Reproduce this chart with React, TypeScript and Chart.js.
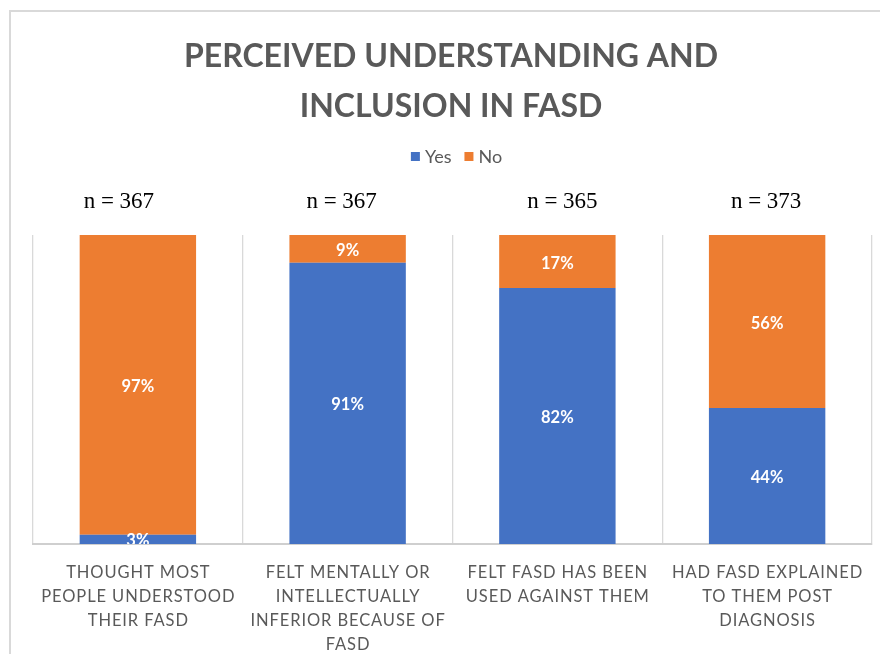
import React, { useEffect, useRef } from "react";
import { Chart, registerables } from "chart.js";

Chart.register(...registerables);

const titleLines = ["PERCEIVED UNDERSTANDING AND", "INCLUSION IN FASD"];
const categories = [
  ["THOUGHT MOST", "PEOPLE UNDERSTOOD", "THEIR FASD"],
  ["FELT MENTALLY OR", "INTELLECTUALLY", "INFERIOR BECAUSE OF", "FASD"],
  ["FELT FASD HAS BEEN", "USED AGAINST THEM"],
  ["HAD FASD EXPLAINED", "TO THEM POST", "DIAGNOSIS"],
];
const yesValues = [3, 91, 82, 44];
const noValues = [97, 9, 17, 56];
const sampleSizes = [367, 367, 365, 373];
const seriesNames = ["Yes", "No"];

const BLUE = "#4472C4";
const ORANGE = "#ED7D31";
const GRAY_TEXT = "#595959";

// 100% stacked: each bar's share of its own total
const totals = yesValues.map((v, i) => v + noValues[i]);
const yesShare = yesValues.map((v, i) => (v / totals[i]) * 100);
const noShare = noValues.map((v, i) => (v / totals[i]) * 100);
const labelSets = [yesValues, noValues];

function drawText(
  ctx: CanvasRenderingContext2D,
  text: string,
  x: number,
  y: number,
  font: string,
  color: string,
  spacing: number,
  align: "center" | "left" = "center"
) {
  ctx.save();
  ctx.font = font;
  ctx.fillStyle = color;
  ctx.textBaseline = "alphabetic";
  ctx.textAlign = "left";
  const anyCtx = ctx as any;
  let sp = 0;
  if ("letterSpacing" in anyCtx) {
    anyCtx.letterSpacing = spacing + "px";
    sp = spacing;
  }
  const w = ctx.measureText(text).width - sp;
  const sx = align === "center" ? x - w / 2 : x;
  ctx.fillText(text, sx, y);
  ctx.restore();
  return w;
}

function measure(ctx: CanvasRenderingContext2D, text: string, font: string) {
  ctx.save();
  ctx.font = font;
  const w = ctx.measureText(text).width;
  ctx.restore();
  return w;
}

const nOffsets = [-19, -6, 5, -1];

const decorPlugin = {
  id: "decor",
  afterDraw(chart: any) {
    const ctx: CanvasRenderingContext2D = chart.ctx;
    const area = chart.chartArea;
    const xScale = chart.scales.x;

    // outer frame
    ctx.save();
    ctx.strokeStyle = "#d9d9d9";
    ctx.lineWidth = 2;
    ctx.strokeRect(10, 11, 1000, 1000);
    ctx.restore();

    // title
    const titleFont = "bold 32px Lato";
    drawText(ctx, titleLines[0], 451, 67, titleFont, GRAY_TEXT, 0);
    drawText(ctx, titleLines[1], 451, 117, titleFont, GRAY_TEXT, 0);

    // legend
    const legFont = "18px Lato";
    const box = 9;
    const gapBoxText = 5;
    const gapItems = 13;
    const colors = [BLUE, ORANGE];
    const widths = seriesNames.map((s) => measure(ctx, s, legFont));
    const total =
      widths.reduce((a, b) => a + b, 0) + seriesNames.length * (box + gapBoxText) + gapItems * (seriesNames.length - 1);
    let lx = 456.5 - total / 2;
    seriesNames.forEach((s, i) => {
      ctx.save();
      ctx.fillStyle = colors[i];
      ctx.fillRect(lx, 152, box, box);
      ctx.restore();
      lx += box + gapBoxText;
      drawText(ctx, s, lx, 163, legFont, GRAY_TEXT, 0, "left");
      lx += widths[i] + gapItems;
    });

    // n labels
    sampleSizes.forEach((n, i) => {
      const cx = xScale.getPixelForValue(i) + nOffsets[i];
      drawText(ctx, "n = " + n, cx, 208, "23px 'Liberation Serif'", "#000", 0);
    });

    // category labels
    categories.forEach((lines, i) => {
      const cx = xScale.getPixelForValue(i);
      lines.forEach((ln, k) => {
        drawText(ctx, ln, cx, 578 + k * 24, "16.5px Lato", GRAY_TEXT, 0.9);
      });
    });

    // data labels
    ctx.save();
    ctx.beginPath();
    ctx.rect(area.left, area.top, area.right - area.left, area.bottom - area.top);
    ctx.clip();
    chart.data.datasets.forEach((ds: any, di: number) => {
      const meta = chart.getDatasetMeta(di);
      meta.data.forEach((bar: any, j: number) => {
        const cy = (bar.y + bar.base) / 2;
        drawText(ctx, labelSets[di][j] + "%", bar.x, cy + 7, "bold 16.5px Lato", "#ffffff", 0);
      });
    });
    ctx.restore();
  },
};

export default function App() {
  const canvasRef = useRef<HTMLCanvasElement | null>(null);

  useEffect(() => {
    if (!canvasRef.current) return;
    const chart = new Chart(canvasRef.current, {
      type: "bar",
      data: {
        labels: categories.map((c) => c.join(" ")),
        datasets: [
          {
            label: seriesNames[0],
            data: yesShare,
            backgroundColor: BLUE,
            categoryPercentage: 1,
            barPercentage: 0.555,
          },
          {
            label: seriesNames[1],
            data: noShare,
            backgroundColor: ORANGE,
            categoryPercentage: 1,
            barPercentage: 0.555,
          },
        ],
      },
      options: {
        responsive: false,
        animation: false,
        layout: { padding: { left: 33, right: 8, top: 235, bottom: 110 } },
        plugins: {
          legend: { display: false },
          title: { display: false },
          tooltip: { enabled: false },
        },
        scales: {
          x: {
            stacked: true,
            grid: { display: true, offset: true, color: "#d9d9d9", lineWidth: 1.3, drawTicks: false },
            border: { display: true, color: "#cfcfcf", width: 2 },
            ticks: { display: false },
          },
          y: {
            stacked: true,
            min: 0,
            max: 100,
            display: false,
          },
        },
      },
      plugins: [decorPlugin],
    });
    return () => chart.destroy();
  }, []);

  return (
    <div style={{ position: "fixed", left: 0, top: 0, width: 880, height: 654, background: "#fff" }}>
      <canvas ref={canvasRef} width={880} height={654} style={{ display: "block" }} />
    </div>
  );
}
